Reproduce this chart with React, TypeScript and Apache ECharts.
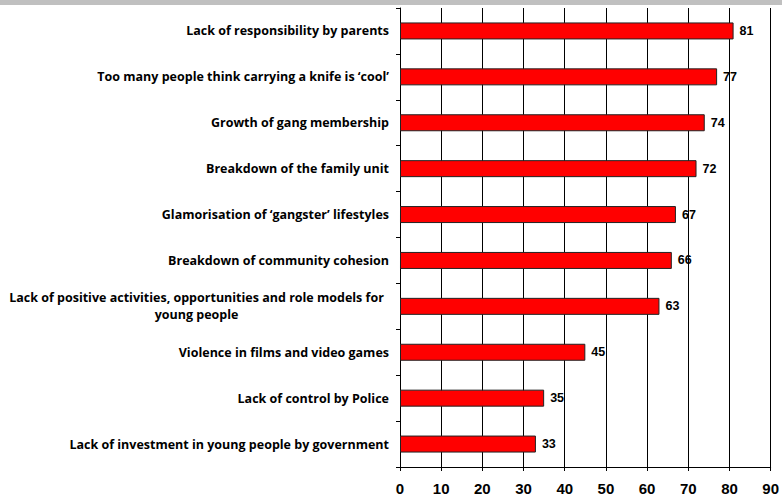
import React, { useEffect, useRef } from "react";
import * as echarts from "echarts";

const categories = [
  "Lack of responsibility by parents",
  "Too many people think carrying a knife is \u2018cool\u2019",
  "Growth of gang membership",
  "Breakdown of the family unit",
  "Glamorisation of \u2018gangster\u2019 lifestyles",
  "Breakdown of community cohesion",
  "Lack of positive activities, opportunities and role models for young people",
  "Violence in films and video games",
  "Lack of control by Police",
  "Lack of investment in young people by government",
];
const values = [81, 77, 74, 72, 67, 66, 63, 45, 35, 33];
const xTicks = { min: 0, max: 90, interval: 10 };

function wrap(s: string, maxChars: number): string[] {
  const words = s.split(" ");
  const lines: string[] = [];
  let cur = "";
  for (const w of words) {
    const next = cur ? cur + " " + w : w;
    if (next.length > maxChars && cur) {
      lines.push(cur);
      cur = w;
    } else cur = next;
  }
  if (cur) lines.push(cur);
  return lines;
}

const LABEL_FONT = "'Open Sans', Lato, sans-serif";

export default function App() {
  const ref = useRef<HTMLDivElement>(null);
  useEffect(() => {
    document.body.style.margin = "0";
    const chart = echarts.init(ref.current!, null, { renderer: "svg" });
    chart.setOption({
      animation: false,
      backgroundColor: "#ffffff",
      graphic: [
        {
          type: "rect",
          left: 0,
          top: 0,
          shape: { width: 782, height: 5 },
          style: { fill: "#c0c0c0" },
        },
      ],
      grid: { left: 400, right: 9, top: 8, bottom: 30, containLabel: false },
      xAxis: {
        type: "value",
        min: xTicks.min,
        max: xTicks.max,
        interval: xTicks.interval,
        axisLine: { show: true, lineStyle: { color: "#000", width: 1 } },
        axisTick: { show: true, length: 4, lineStyle: { color: "#000" } },
        splitLine: { show: true, lineStyle: { color: "#000", width: 1 } },
        axisLabel: {
          color: "#000",
          fontFamily: "Liberation Sans, Arial, sans-serif",
          fontWeight: "bold",
          fontSize: 15,
          margin: 14,
        },
      },
      yAxis: {
        type: "category",
        inverse: true,
        data: categories,
        axisLine: { show: true, lineStyle: { color: "#000", width: 1 } },
        axisTick: { show: true, length: 4, alignWithLabel: false, lineStyle: { color: "#000" } },
        axisLabel: {
          color: "#000",
          fontFamily: LABEL_FONT,
          fontWeight: "bold",
          fontSize: 12.5,
          margin: 11,
          lineHeight: 17,
          formatter: (v: string) => {
            const lines = wrap(v, 64);
            if (lines.length === 1) return v;
            return lines.map((l) => `{c|${l}}`).join("\n");
          },
          rich: {
            c: {
              width: 385,
              align: "center",
              color: "#000",
              fontFamily: LABEL_FONT,
              fontWeight: "bold",
              fontSize: 12.5,
              lineHeight: 17,
            },
          },
        },
      },
      series: [
        {
          type: "bar",
          data: values,
          barWidth: 17,
          itemStyle: { color: "#ff0000", borderColor: "#222", borderWidth: 1 },
          label: {
            show: true,
            position: "right",
            distance: 6,
            color: "#000",
            fontFamily: "Liberation Sans, Arial, sans-serif",
            fontWeight: "bold",
            fontSize: 12.5,
          },
        },
      ],
    });
    return () => chart.dispose();
  }, []);
  return <div ref={ref} style={{ width: 782, height: 497 }} />;
}
